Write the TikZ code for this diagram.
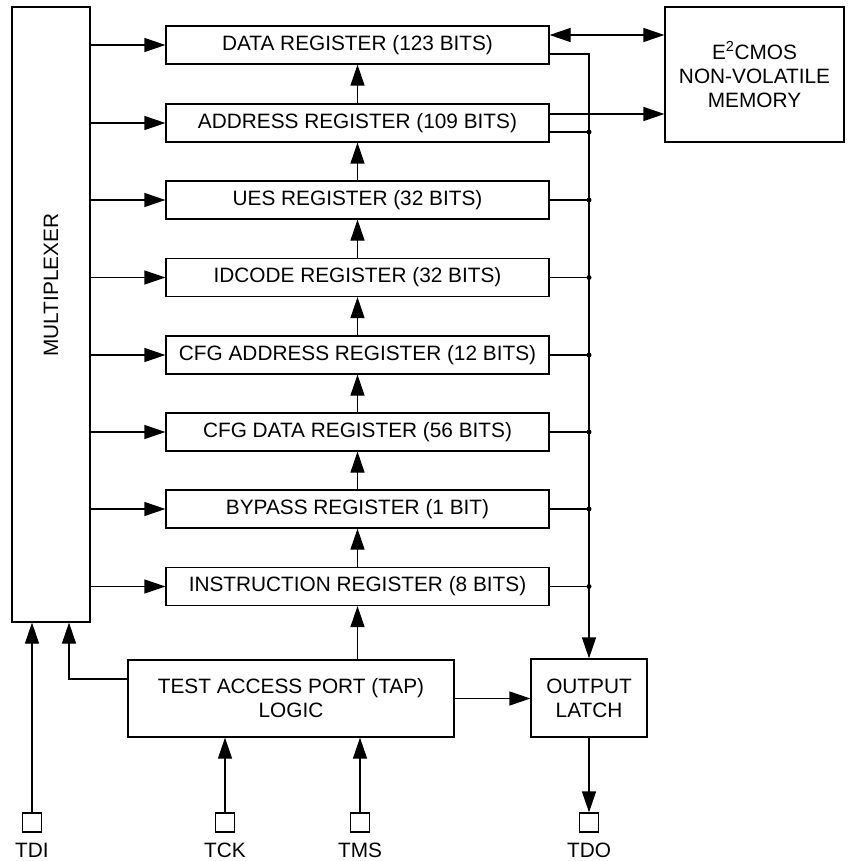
\documentclass[tikz,border=0pt]{standalone}
\usepackage{fontspec}
\setmainfont{Liberation Sans}
\usepackage{tikz}
\usetikzlibrary{arrows.meta}
\tikzset{every node/.style={font=\fontsize{20.8}{24}\selectfont, align=center}}
\tikzset{regbox/.style={draw, rectangle, minimum width=383pt, minimum height=38pt, inner sep=0pt}}
\tikzset{pinbox/.style={draw, rectangle, minimum size=19pt, inner sep=0pt}}
\tikzset{arr/.style={-{Triangle[length=21pt,width=14pt]}}}
\tikzset{biarr/.style={{Triangle[length=21pt,width=14pt]}-{Triangle[length=21pt,width=14pt]}}}
\tikzset{dot/.style={circle, fill, inner sep=0pt, minimum size=5pt}}

\begin{document}
\begin{tikzpicture}[x=1pt,y=-1pt,line width=1.2pt]
		\useasboundingbox (0,0) rectangle (849,861);
		\node[draw, rectangle, minimum width=78pt, minimum height=615pt] (mux) at (51,314.5) {};
		\node[rotate=90] (muxlabel) at (51,285) {MULTIPLEXER};
		\node[regbox] (datareg) at (357.5,45) {DATA REGISTER (123 BITS)};
		\node[regbox] (addrreg) at (357.5,123) {ADDRESS REGISTER (109 BITS)};
		\node[regbox] (uesreg) at (357.5,200) {UES REGISTER (32 BITS)};
		\node[regbox] (idreg) at (357.5,277.5) {IDCODE REGISTER (32 BITS)};
		\node[regbox] (cfgaddrreg) at (357.5,355) {CFG ADDRESS REGISTER (12 BITS)};
		\node[regbox] (cfgdatareg) at (357.5,432) {CFG DATA REGISTER (56 BITS)};
		\node[regbox] (bypassreg) at (357.5,509) {BYPASS REGISTER (1 BIT)};
		\node[regbox] (instreg) at (357.5,586.5) {INSTRUCTION REGISTER (8 BITS)};
		\node[draw, rectangle, minimum width=179pt, minimum height=135pt] (mem) at (754.5,74.5) {E\textsuperscript{2}CMOS\\NON-VOLATILE\\MEMORY};
		\node[draw, rectangle, minimum width=326pt, minimum height=77pt] (tap) at (291,698.5) {TEST ACCESS PORT (TAP)\\LOGIC};
		\node[draw, rectangle, minimum width=116pt, minimum height=78pt] (latch) at (589,698) {OUTPUT\\LATCH};
		\node[pinbox] (tdi) at (32,822.5) {};
		\node[pinbox] (tck) at (225,822.5) {};
		\node[pinbox] (tms) at (360,822.5) {};
		\node[pinbox] (tdo) at (589,822.5) {};
		\node[anchor=base] (tdilabel) at (32,857) {TDI};
		\node[anchor=base] (tcklabel) at (225,857) {TCK};
		\node[anchor=base] (tmslabel) at (360,857) {TMS};
		\node[anchor=base] (tdolabel) at (589,857) {TDO};
		% multiplexer outputs
		\draw[arr] (mux.east |- datareg.west) -- (datareg.west);
		\draw[arr] (mux.east |- addrreg.west) -- (addrreg.west);
		\draw[arr] (mux.east |- uesreg.west) -- (uesreg.west);
		\draw[arr] (mux.east |- idreg.west) -- (idreg.west);
		\draw[arr] (mux.east |- cfgaddrreg.west) -- (cfgaddrreg.west);
		\draw[arr] (mux.east |- cfgdatareg.west) -- (cfgdatareg.west);
		\draw[arr] (mux.east |- bypassreg.west) -- (bypassreg.west);
		\draw[arr] (mux.east |- instreg.west) -- (instreg.west);
		% register chain
		\draw[arr] (addrreg.north) -- (datareg.south);
		\draw[arr] (uesreg.north) -- (addrreg.south);
		\draw[arr] (idreg.north) -- (uesreg.south);
		\draw[arr] (cfgaddrreg.north) -- (idreg.south);
		\draw[arr] (cfgdatareg.north) -- (cfgaddrreg.south);
		\draw[arr] (bypassreg.north) -- (cfgdatareg.south);
		\draw[arr] (instreg.north) -- (bypassreg.south);
		\draw[arr] (tap.north -| instreg.south) -- (instreg.south);
		% memory
		\draw[biarr] ([yshift=10pt]datareg.east) -- ([yshift=10pt]datareg.east -| mem.west);
		\draw[arr] ([yshift=9pt]addrreg.east) -- ([yshift=9pt]addrreg.east -| mem.west);
		% output bus
		\draw[arr] ([yshift=-9pt]datareg.east) -| (latch.north);
		\draw ([yshift=-9pt]addrreg.east) -- ([yshift=-9pt]addrreg.east -| latch.north) node[dot] {};
		\draw (uesreg.east) -- (uesreg.east -| latch.north) node[dot] {};
		\draw (idreg.east) -- (idreg.east -| latch.north) node[dot] {};
		\draw (cfgaddrreg.east) -- (cfgaddrreg.east -| latch.north) node[dot] {};
		\draw (cfgdatareg.east) -- (cfgdatareg.east -| latch.north) node[dot] {};
		\draw (bypassreg.east) -- (bypassreg.east -| latch.north) node[dot] {};
		\draw (instreg.east) -- (instreg.east -| latch.north) node[dot] {};
		% tap and pins
		\draw[arr] (tap.east) -- (tap.east -| latch.west);
		\draw[arr] ([yshift=19.5pt]tap.west) -| ([xshift=18pt]mux.south);
		\draw[arr] (tdi.north) -- (tdi.north |- mux.south);
		\draw[arr] (tck.north) -- (tck.north |- tap.south);
		\draw[arr] (tms.north) -- (tms.north |- tap.south);
		\draw[arr] (latch.south) -- (tdo.north);
\end{tikzpicture}
\end{document}
